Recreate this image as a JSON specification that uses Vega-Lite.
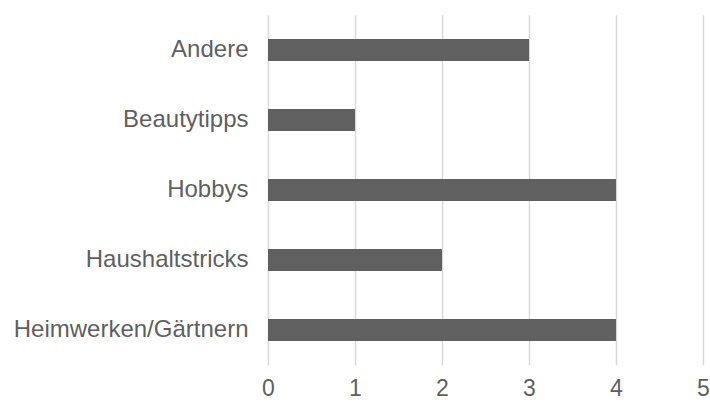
{
  "$schema": "https://vega.github.io/schema/vega-lite/v6.json",
  "autosize": {"type": "none"},
  "width": 435,
  "height": 350,
  "padding": {"left": 268, "top": 15, "right": 7, "bottom": 38},
  "background": "white",
  "data": {"values": [
    {"kategorie": "Andere", "wert": 3},
    {"kategorie": "Beautytipps", "wert": 1},
    {"kategorie": "Hobbys", "wert": 4},
    {"kategorie": "Haushaltstricks", "wert": 2},
    {"kategorie": "Heimwerken/Gärtnern", "wert": 4}
  ]},
  "mark": {"type": "bar", "color": "#606060", "size": 22},
  "encoding": {
    "y": {
      "field": "kategorie", "type": "nominal", "sort": null, "title": null,
      "axis": {"domain": false, "ticks": false, "labelFont": "Liberation Sans", "labelFontSize": 24, "labelColor": "#5f5f5f", "labelPadding": 20, "labelLimit": 300}
    },
    "x": {
      "field": "wert", "type": "quantitative", "title": null,
      "scale": {"domain": [0, 5]},
      "axis": {"values": [0,1,2,3,4,5], "domain": false, "ticks": false, "grid": true, "gridColor": "#d9d9d9", "gridWidth": 1.5, "labelFont": "Liberation Sans", "labelFontSize": 23, "labelColor": "#5f5f5f", "labelPadding": 12, "labelFlush": false, "format": "d"}
    }
  },
  "config": {"view": {"stroke": null}}
}
